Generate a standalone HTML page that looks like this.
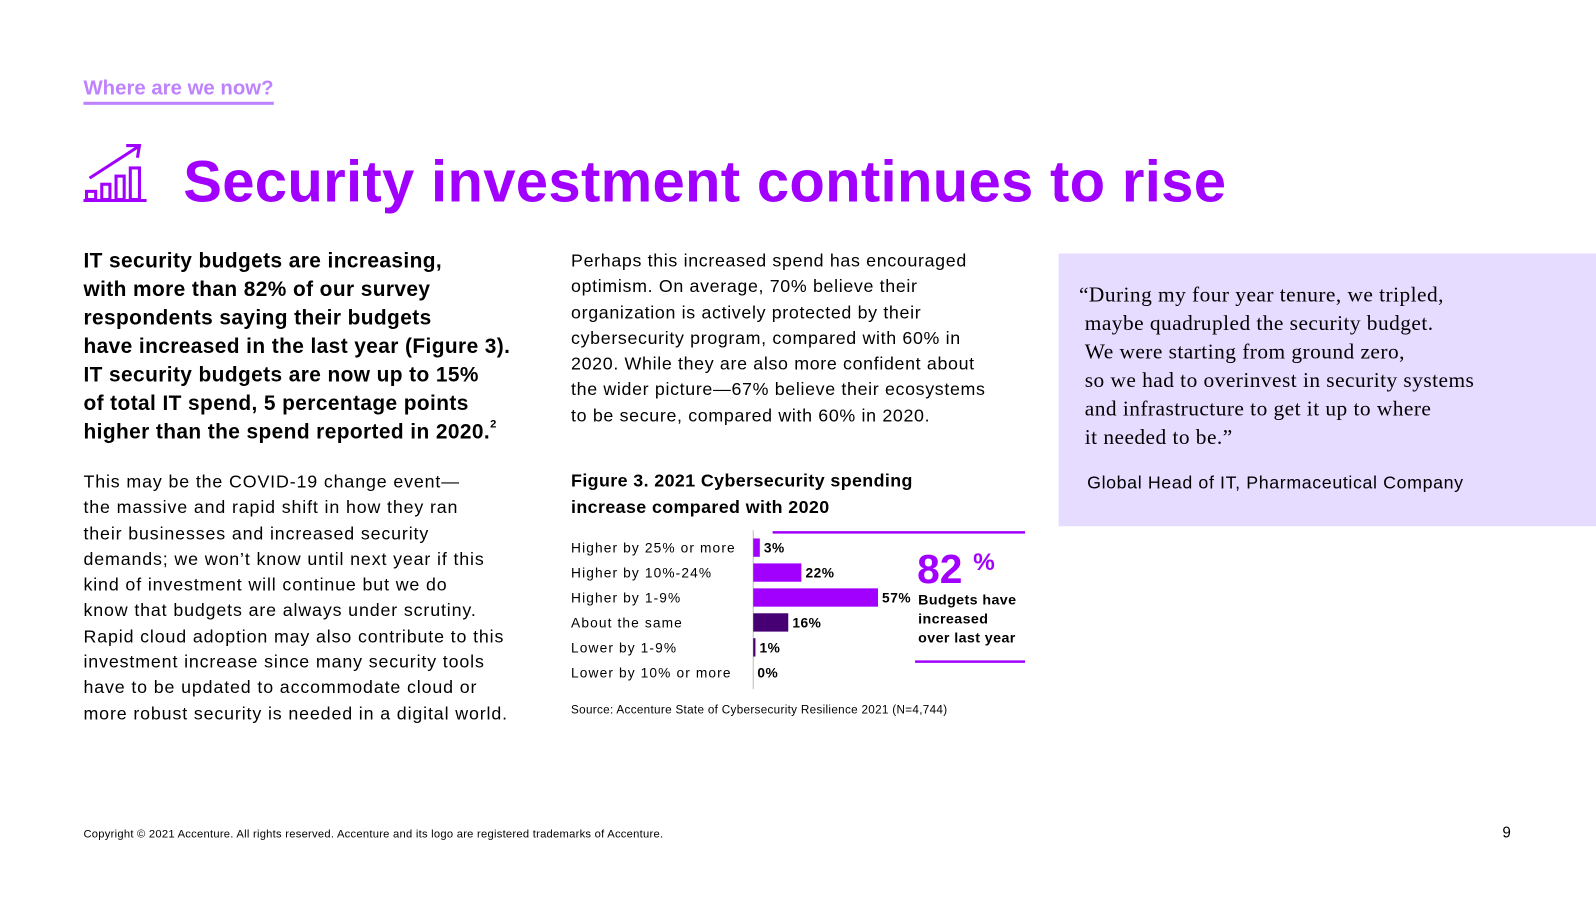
<!DOCTYPE html>
<html><head><meta charset="utf-8">
<style>
body{margin:0;width:1596px;height:900px;background:#fff;font-family:"Liberation Sans",sans-serif;color:#000;position:relative;overflow:hidden}
#wrap{position:absolute;left:0;top:0;width:1568px;height:884px;transform:scale(1.0179);transform-origin:0 0}
.a{position:absolute}
.lead{left:82px;top:243px;font-size:20.5px;font-weight:bold;line-height:28px;letter-spacing:0.4px}
.body{font-size:17.5px;line-height:25.3px;letter-spacing:0.5px}
sup{font-size:11px;vertical-align:top;line-height:0;position:relative;top:6px}
</style></head><body>
<div id="wrap">
<div class="a" style="left:82px;top:76px;font-size:20px;font-weight:bold;color:#be82ff;border-bottom:3px solid #be82ff;padding-bottom:1px">Where are we now?</div>
<svg class="a" style="left:80px;top:140px" width="66" height="62" viewBox="0 0 66 62">
<g fill="none" stroke="#a100ff" stroke-width="3"><path d="M8 35 L56 4 M44 3 L57 3 L55 15"/><rect x="5" y="48" width="9" height="8"/><rect x="20" y="41" width="8" height="15"/><rect x="34" y="33" width="8" height="23"/><rect x="48" y="25" width="9" height="31"/><path d="M2 57 L64 57"/></g></svg>
<div class="a" style="left:180px;top:146px;font-size:57px;font-weight:bold;color:#a100ff;letter-spacing:0.3px">Security investment continues to rise</div>
<div class="a lead">IT security budgets are increasing,<br>with more than 82% of our survey<br>respondents saying their budgets<br>have increased in the last year (Figure 3).<br>IT security budgets are now up to 15%<br>of total IT spend, 5 percentage points<br>higher than the spend reported in 2020.<sup>2</sup></div>
<div class="a body" style="left:82px;top:461px;letter-spacing:0.85px">This may be the COVID-19 change event—<br>the massive and rapid shift in how they ran<br>their businesses and increased security<br>demands; we won’t know until next year if this<br>kind of investment will continue but we do<br>know that budgets are always under scrutiny.<br>Rapid cloud adoption may also contribute to this<br>investment increase since many security tools<br>have to be updated to accommodate cloud or<br>more robust security is needed in a digital world.</div>
<div class="a body" style="left:561px;top:244px;letter-spacing:0.65px">Perhaps this increased spend has encouraged<br>optimism. On average, 70% believe their<br>organization is actively protected by their<br>cybersecurity program, compared with 60% in<br>2020. While they are also more confident about<br>the wider picture—67% believe their ecosystems<br>to be secure, compared with 60% in 2020.</div>
<div class="a" style="left:561px;top:460px;font-size:17.5px;font-weight:bold;line-height:25.5px;letter-spacing:0.4px">Figure 3. 2021 Cybersecurity spending<br>increase compared with 2020</div>
<svg class="a" id="chart" style="left:550px;top:515px" width="470" height="170"></svg>
<div class="a" style="left:561px;top:692px;font-size:11.5px;letter-spacing:0.3px">Source: Accenture State of Cybersecurity Resilience 2021 (N=4,744)</div>
<div class="a" style="left:1040px;top:249px;width:556px;height:268px;background:#e6dcff"></div>
<div class="a" style="left:1060px;top:275px;font-family:'Liberation Serif',serif;font-size:21px;line-height:28px;letter-spacing:0.45px">“During my four year tenure, we tripled,<br>&nbsp;maybe quadrupled the security budget.<br>&nbsp;We were starting from ground zero,<br>&nbsp;so we had to overinvest in security systems<br>&nbsp;and infrastructure to get it up to where<br>&nbsp;it needed to be.”</div>
<div class="a" style="left:1068px;top:464px;font-size:17.5px;letter-spacing:0.6px">Global Head of IT, Pharmaceutical Company</div>
<div class="a" style="left:82px;top:814px;font-size:11px;letter-spacing:0.25px">Copyright © 2021 Accenture. All rights reserved. Accenture and its logo are registered trademarks of Accenture.</div>
<div class="a" style="left:1476px;top:810px;font-size:15px">9</div>
</div>
<script>
const categories=["Higher by 25% or more","Higher by 10%-24%","Higher by 1-9%","About the same","Lower by 1-9%","Lower by 10% or more"];
const values=[3,22,57,16,1,0];
const valueLabels=["3%","22%","57%","16%","1%","0%"];
const colors=["#a100ff","#a100ff","#a100ff","#460073","#460073","#460073"];
const NS="http://www.w3.org/2000/svg";
const svg=document.getElementById('chart');
const x0=190,kx=2.15,y0=23,step=24.5,bh=18;
const xs=v=>v*kx, ys=i=>y0+i*step;
function mk(t,a){const e=document.createElementNS(NS,t);for(const k in a)e.setAttribute(k,a[k]);svg.appendChild(e);return e;}
const ax=mk('line',{x1:x0,y1:6,x2:x0,y2:162,stroke:'#bbb','stroke-width':1});


categories.forEach((c,i)=>{
 const t=mk('text',{x:11,y:ys(i)+5,'font-size':13.5,'font-family':'Liberation Sans','letter-spacing':'1.1'});t.textContent=c;
 
 
 const r=mk('rect',{x:x0,y:ys(i)-bh/2,width:Math.max(xs(values[i]),values[i]>0?2:0),height:bh,fill:colors[i]});
 
 
 const l=mk('text',{x:x0+xs(values[i])+4,y:ys(i)+5,'font-size':13.5,'font-weight':'bold','font-family':'Liberation Sans','letter-spacing':'0.5'});l.textContent=valueLabels[i];
 
 
});
mk('line',{x1:209,y1:8,x2:457,y2:8,stroke:'#a100ff','stroke-width':2.5});
mk('line',{x1:349,y1:135,x2:457,y2:135,stroke:'#a100ff','stroke-width':2.5});
const big=mk('text',{x:351,y:58,'font-size':40,'font-weight':'bold',fill:'#a100ff','font-family':'Liberation Sans'});big.textContent='82';


const pc=mk('text',{x:406,y:45,'font-size':24,'font-weight':'bold',fill:'#a100ff','font-family':'Liberation Sans'});pc.textContent='%';
["Budgets have","increased","over last year"].forEach((s,i)=>{const t=mk('text',{x:352,y:79+i*18.5,'font-size':14,'font-weight':'bold','font-family':'Liberation Sans','letter-spacing':'0.4'});t.textContent=s;
 
 });
</script>
</body></html>
